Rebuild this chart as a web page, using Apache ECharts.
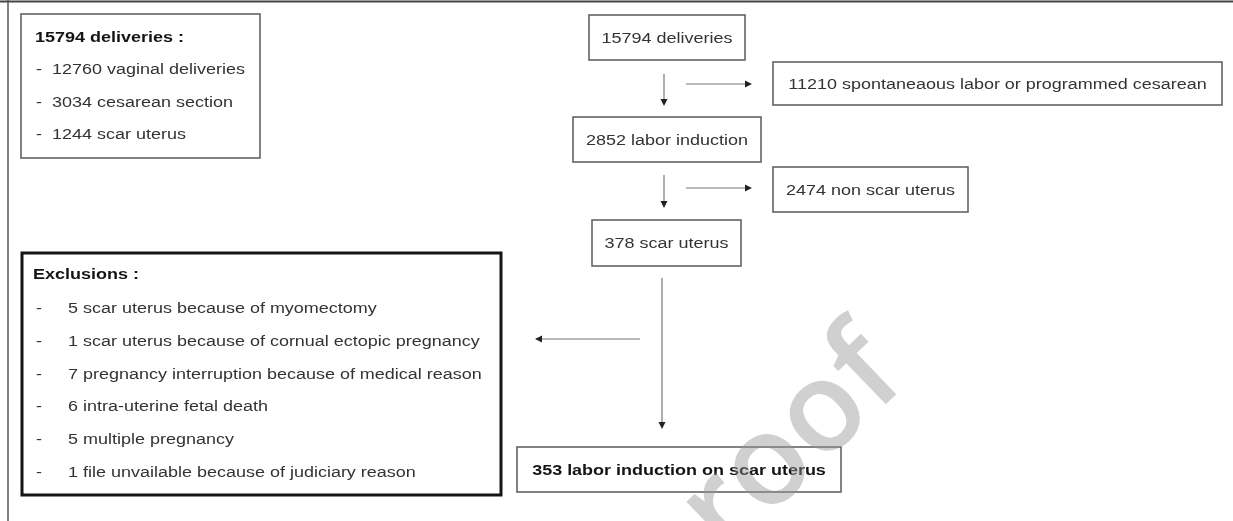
<!DOCTYPE html>
<html>
<head>
<meta charset="utf-8">
<title>Flow chart</title>
<script src="https://cdn.jsdelivr.net/npm/echarts@6/dist/echarts.min.js"></script>
<style>
  html, body { margin: 0; padding: 0; background: #fff; }
  #chart { width: 1233px; height: 521px; }
</style>
</head>
<body>
<div id="chart"></div>
<script>
// main flow (counts + labels)
const flowCounts = [15794, 2852, 378, 353]
const flowLabels = ['deliveries', 'labor induction', 'scar uterus', 'labor induction on scar uterus']

// branches to the right
const sideCounts = [11210, 2474]
const sideLabels = ['spontaneaous labor or programmed cesarean', 'non scar uterus']

// breakdown of deliveries
const deliveryCounts = [12760, 3034, 1244]
const deliveryLabels = ['vaginal deliveries', 'cesarean section', 'scar uterus']

// exclusions
const exclusionCounts = [5, 1, 7, 6, 5, 1]
const exclusionLabels = [
  'scar uterus because of myomectomy',
  'scar uterus because of cornual ectopic pregnancy',
  'pregnancy interruption because of medical reason',
  'intra-uterine fetal death',
  'multiple pregnancy',
  'file unvailable because of judiciary reason',
]

// layout (boxes as [x, y, w, h])
const flowBoxes = [[589, 15, 156, 45], [573, 117, 188, 45], [592, 220, 149, 46], [517, 447, 324, 45]]
const sideBoxes = [[773, 62, 449, 43], [773, 167, 195, 45]]

const FONT = '"Liberation Sans", Arial, sans-serif'
const FS = 15.5
const SX = 1.16
const lineColor = '#5a5a5a'
const textColor = '#333'

function label(text, x, y, opts = {}) {
  return {
    type: 'text',
    x, y,
    scaleX: SX,
    z: 10,
    style: {
      text,
      x: 0, y: 0,
      align: opts.align || 'left',
      verticalAlign: 'middle',
      fontFamily: FONT,
      fontSize: FS,
      fontWeight: opts.bold ? 'bold' : 'normal',
      fill: opts.bold ? '#141414' : textColor,
    },
  }
}

function box(b, lw = 1.5, color = lineColor) {
  return {
    type: 'rect',
    shape: { x: b[0], y: b[1], width: b[2], height: b[3] },
    style: { fill: null, stroke: color, lineWidth: lw },
    z: 5,
  }
}

function arrow(x1, y1, x2, y2) {
  const dx = Math.sign(x2 - x1), dy = Math.sign(y2 - y1)
  const len = 7, half = 3.5
  const bx = x2 - dx * len, by = y2 - dy * len
  const pts = dx !== 0
    ? [[x2, y2], [bx, y2 - half], [bx, y2 + half]]
    : [[x2, y2], [x2 - half, by], [x2 + half, by]]
  return [
    { type: 'line', shape: { x1, y1, x2: bx, y2: by }, style: { stroke: '#777', lineWidth: 1.2 }, z: 5 },
    { type: 'polygon', shape: { points: pts }, style: { fill: '#222' }, z: 5 },
  ]
}

const elements = []

// outer frame (top and left edges)
elements.push({ type: 'line', shape: { x1: 0, y1: 1.5, x2: 1233, y2: 1.5 }, style: { stroke: '#444', lineWidth: 2 } })
elements.push({ type: 'line', shape: { x1: 8, y1: 0, x2: 8, y2: 521 }, style: { stroke: '#555', lineWidth: 1.5 } })

// deliveries breakdown box
elements.push(box([21, 14, 239, 144]))
elements.push(label(flowCounts[0] + ' deliveries :', 35, 38, { bold: true }))
deliveryCounts.forEach((c, i) => {
  const y = 70 + i * 32.5
  elements.push(label('-', 36, y))
  elements.push(label(c + ' ' + deliveryLabels[i], 52, y))
})

// main flow boxes
flowBoxes.forEach((b, i) => {
  const last = i === flowBoxes.length - 1
  elements.push(box(b))
  elements.push(label(flowCounts[i] + ' ' + flowLabels[i], b[0] + b[2] / 2, b[1] + b[3] / 2 + 1, { align: 'center', bold: last }))
})

// side boxes
sideBoxes.forEach((b, i) => {
  elements.push(box(b))
  elements.push(label(sideCounts[i] + ' ' + sideLabels[i], b[0] + b[2] / 2, b[1] + b[3] / 2 + 1, { align: 'center' }))
})

// arrows
elements.push(...arrow(664, 74, 664, 106))
elements.push(...arrow(664, 175, 664, 208))
elements.push(...arrow(686, 84, 752, 84))
elements.push(...arrow(686, 188, 752, 188))
elements.push(...arrow(662, 278, 662, 429))
elements.push(...arrow(640, 339, 535, 339))

// exclusions box
elements.push(box([22, 253, 479, 242], 3, '#151515'))
elements.push(label('Exclusions :', 33, 275, { bold: true }))
exclusionCounts.forEach((c, i) => {
  const y = 309 + i * 32.7
  elements.push(label('-', 36, y))
  elements.push(label(c + ' ' + exclusionLabels[i], 68, y))
})

// watermark
elements.push({
  type: 'text',
  x: 884, y: 356,
  rotation: 44 * Math.PI / 180,
  z: 20,
  style: {
    text: 'Journal Pre-proof',
    x: 0, y: 0,
    align: 'right',
    verticalAlign: 'middle',
    fontFamily: '"Open Sans", "DejaVu Sans", sans-serif',
    fontWeight: 600,
    fontSize: 126,
    fill: 'rgba(150,150,150,0.45)',
  },
})

const chart = echarts.init(document.getElementById('chart'), null, { renderer: 'canvas' })
chart.setOption({
  animation: false,
  backgroundColor: '#fff',
  graphic: { elements },
})
</script>
</body>
</html>
